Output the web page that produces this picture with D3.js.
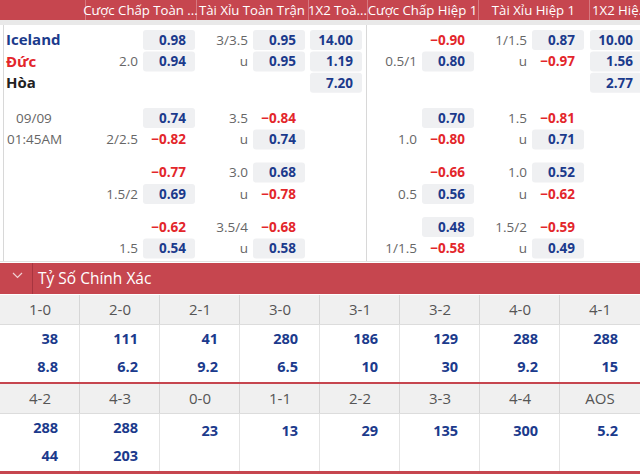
<!DOCTYPE html>
<html><head><meta charset="utf-8">
<script src="https://cdn.jsdelivr.net/npm/d3@7"></script>
<style>
body{margin:0;background:#fff;overflow:hidden}
svg{display:block;font-family:'Open Sans','Noto Sans',sans-serif}
</style>
</head><body><svg id="c" width="640" height="475"></svg>
<script>
// ---------- data ----------
const headers = ["Cược Chấp Toàn ...", "Tài Xỉu Toàn Trận", "1X2 Toà...", "Cược Chấp Hiệp 1", "Tài Xỉu Hiệp 1", "1X2 Hiệ.."];
const teams = ["Iceland", "Đức", "Hòa"];
const matchDate = "09/09";
const matchTime = "01:45AM";

const ftHcpLines = ["2.0", "2/2.5", "1.5/2", "1.5"];
const ftHcpHome  = [0.98, 0.74, -0.77, -0.62];
const ftHcpAway  = [0.94, -0.82, 0.69, 0.54];

const ftOuLines  = ["3/3.5", "3.5", "3.0", "3.5/4"];
const ftOver     = [0.95, -0.84, 0.68, -0.68];
const ftUnder    = [0.95, 0.74, -0.78, 0.58];

const ft1x2      = [14.00, 1.19, 7.20];

const h1HcpLines = ["0.5/1", "1.0", "0.5", "1/1.5"];
const h1HcpHome  = [-0.90, 0.70, -0.66, 0.48];
const h1HcpAway  = [0.80, -0.80, 0.56, -0.58];

const h1OuLines  = ["1/1.5", "1.5", "1.0", "1.5/2"];
const h1Over     = [0.87, -0.81, 0.52, -0.59];
const h1Under    = [-0.97, 0.71, -0.62, 0.49];

const h11x2      = [10.00, 1.56, 2.77];

const sectionTitle = "Tỷ Số Chính Xác";
const scoreLabelsA = ["1-0", "2-0", "2-1", "3-0", "3-1", "3-2", "4-0", "4-1"];
const scoreHomeA   = [38, 111, 41, 280, 186, 129, 288, 288];
const scoreAwayA   = [8.8, 6.2, 9.2, 6.5, 10, 30, 9.2, 15];
const scoreLabelsB = ["4-2", "4-3", "0-0", "1-1", "2-2", "3-3", "4-4", "AOS"];
const scoreTopB    = [288, 288, 23, 13, 29, 135, 300, 5.2];
const scoreBotB    = [44, 203, null, null, null, null, null, null];

// ---------- styles ----------
const RED_BG = "#c6464f", NAVY = "#1b3a8c", NEG = "#e3262b", GRAY = "#666", BOX = "#eff0f2";
const svg = d3.select("#c");
const W = 640;

// ---------- top header ----------
const colEdges = [85, 196, 308, 367, 478, 589, 650];
svg.append("rect").attr("x", 0).attr("y", 0).attr("width", W).attr("height", 20).attr("fill", RED_BG);
svg.append("rect").attr("x", 0).attr("y", 20).attr("width", W).attr("height", 5).attr("fill", "#e9e9e9");
svg.selectAll("line.hsep").data(colEdges.slice(0, -1)).join("line")
  .attr("x1", d => d + 0.5).attr("x2", d => d + 0.5).attr("y1", 0).attr("y2", 20)
  .attr("stroke", "rgba(255,255,255,0.28)");
svg.selectAll("text.hdr").data(headers).join("text")
  .attr("x", (d, i) => i === 5 ? colEdges[i] + 3 : (colEdges[i] + colEdges[i + 1]) / 2)
  .attr("text-anchor", (d, i) => i === 5 ? "start" : "middle")
  .attr("y", 10.5).attr("dy", "0.36em")
  .attr("fill", "#fff").attr("font-size", 13.2).text(d => d);

// body borders
svg.append("line").attr("x1", 3.5).attr("x2", 3.5).attr("y1", 25).attr("y2", 262).attr("stroke", "#d8d8d8");
svg.append("line").attr("x1", 366.5).attr("x2", 366.5).attr("y1", 25).attr("y2", 262).attr("stroke", "#d8d8d8");
svg.append("line").attr("x1", 0).attr("x2", W).attr("y1", 261.5).attr("y2", 261.5).attr("stroke", "#e2e2e2");

// row positions
const rowY = (g, r) => (g === 0 ? 40 : 118 + (g - 1) * 54.5) + r * 21.4;
const fmt2 = d3.format(".2f");

// team names
const teamColors = [NAVY, NEG, "#222"];
svg.selectAll("text.team").data(teams).join("text")
  .attr("x", 6).attr("y", (d, i) => rowY(0, i)).attr("dy", "0.36em")
  .attr("font-size", 15).attr("font-weight", 700)
  .attr("fill", (d, i) => teamColors[i]).text(d => d);
svg.append("text").attr("x", 16).attr("y", rowY(1, 0)).attr("dy", "0.36em")
  .attr("font-size", 13.5).attr("fill", GRAY).text(matchDate);
svg.append("text").attr("x", 7).attr("y", rowY(1, 1)).attr("dy", "0.36em")
  .attr("font-size", 13.5).attr("fill", GRAY).text(matchTime);

function oddCell(g, r, v, xr, digitsFmt) {
  const y = rowY(g, r);
  if (v > 0) {
    svg.append("rect").attr("x", xr + 9 - 52).attr("y", y - 10).attr("width", 52).attr("height", 20)
      .attr("rx", 3).attr("fill", BOX);
  }
  svg.append("text").attr("x", xr).attr("y", y).attr("dy", "0.36em").attr("text-anchor", "end")
    .attr("font-size", 13.5).attr("font-weight", 700).attr("fill", v > 0 ? NAVY : NEG)
    .text(digitsFmt(v));
}
function lineText(g, r, t, xr) {
  svg.append("text").attr("x", xr).attr("y", rowY(g, r)).attr("dy", "0.36em").attr("text-anchor", "end")
    .attr("font-size", 13.5).attr("fill", GRAY).text(t);
}
function market(lines, home, away, xLine, xVal, isOu) {
  lines.forEach((ln, g) => {
    if (isOu) { lineText(g, 0, ln, xLine); lineText(g, 1, "u", xLine); }
    else lineText(g, 1, ln, xLine);
    oddCell(g, 0, home[g], xVal, fmt2);
    oddCell(g, 1, away[g], xVal, fmt2);
  });
}
market(ftHcpLines, ftHcpHome, ftHcpAway, 138, 186, false);
market(ftOuLines, ftOver, ftUnder, 248, 296, true);
market(h1HcpLines, h1HcpHome, h1HcpAway, 417, 465, false);
market(h1OuLines, h1Over, h1Under, 527, 575, true);
ft1x2.forEach((v, i) => oddCell(0, i, v, 353, fmt2));
h11x2.forEach((v, i) => oddCell(0, i, v, 633, fmt2));

// ---------- correct score section ----------
svg.append("rect").attr("x", 0).attr("y", 263).attr("width", W).attr("height", 31).attr("fill", RED_BG);
svg.append("line").attr("x1", 32.5).attr("x2", 32.5).attr("y1", 263).attr("y2", 294).attr("stroke", "#a73540");
svg.append("path").attr("d", "M13,273 L17.5,277.5 L22,273").attr("fill", "none")
  .attr("stroke", "rgba(255,255,255,0.75)").attr("stroke-width", 1.2);
svg.append("text").attr("x", 38).attr("y", 278).attr("dy", "0.36em").attr("fill", "#fff")
  .attr("font-size", 15.5).text(sectionTitle);

const xb = d3.scaleBand().domain(d3.range(8)).range([0, W]);
function scoreBlock(top, labels, rowA, rowB) {
  svg.append("rect").attr("x", 0).attr("y", top).attr("width", W).attr("height", 29).attr("fill", "#f0f0f0");
  svg.append("line").attr("x1", 0).attr("x2", W).attr("y1", top + 29.5).attr("y2", top + 29.5).attr("stroke", "#dcdcdc");
  svg.selectAll(null).data(d3.range(1, 8)).join("line")
    .attr("x1", i => xb(i) - 0.5).attr("x2", i => xb(i) - 0.5)
    .attr("y1", top).attr("y2", top + 29).attr("stroke", "#d6d6d6");
  svg.selectAll(null).data(d3.range(1, 8)).join("line")
    .attr("x1", i => xb(i) - 0.5).attr("x2", i => xb(i) - 0.5)
    .attr("y1", top + 30).attr("y2", top + 87).attr("stroke", "#e4e4e4");
  svg.selectAll(null).data(labels).join("text")
    .attr("x", (d, i) => xb(i) + xb.bandwidth() / 2).attr("y", top + 14.5).attr("dy", "0.36em")
    .attr("text-anchor", "middle").attr("font-size", 15).attr("fill", "#555").text(d => d);
  labels.forEach((l, i) => {
    const xr = xb(i) + 58;
    const single = rowB[i] == null;
    svg.append("text").attr("x", xr).attr("y", single ? top + 47 : top + 44).attr("dy", "0.36em")
      .attr("text-anchor", "end").attr("font-size", 14.5).attr("font-weight", 700).attr("fill", NAVY)
      .text(String(rowA[i]));
    if (!single)
      svg.append("text").attr("x", xr).attr("y", top + 72).attr("dy", "0.36em")
        .attr("text-anchor", "end").attr("font-size", 14.5).attr("font-weight", 700).attr("fill", NAVY)
        .text(String(rowB[i]));
  });
  svg.append("rect").attr("x", 0).attr("y", top + 87).attr("width", W).attr("height", 3).attr("fill", RED_BG);
}
scoreBlock(295, scoreLabelsA, scoreHomeA, scoreAwayA);
scoreBlock(384, scoreLabelsB, scoreTopB, scoreBotB);
</script>
</body></html>
